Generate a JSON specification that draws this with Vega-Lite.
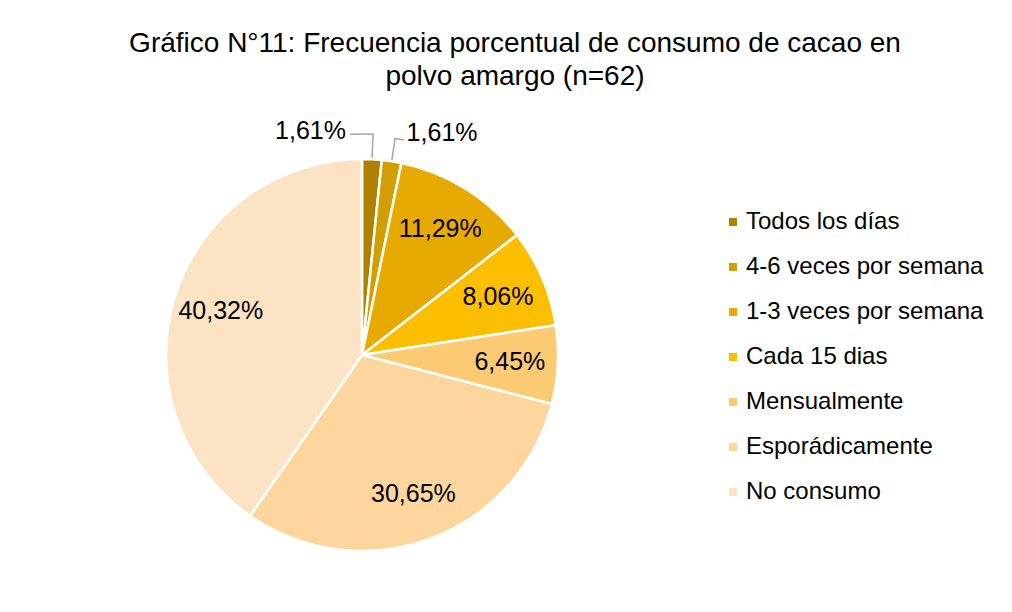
{
  "$schema": "https://vega.github.io/schema/vega-lite/v6.json",
  "width": 392,
  "height": 392,
  "autosize": {"type": "none"},
  "padding": {"left": 166, "top": 159, "right": 454, "bottom": 61},
  "background": "white",
  "config": {"view": {"stroke": null}, "font": "Liberation Sans"},
  "title": {
    "text": ["Gráfico N°11: Frecuencia porcentual de consumo de cacao en", "polvo amargo (n=62)"],
    "font": "Liberation Sans",
    "fontSize": 28,
    "fontWeight": "normal",
    "color": "#000000",
    "anchor": "middle",
    "frame": "group",
    "dx": 153,
    "lineHeight": 33,
    "offset": 28
  },
  "data": {
    "values": [
      {"o": 1, "cat": "Todos los días", "pct": 1.61, "label": "1,61%"},
      {"o": 2, "cat": "4-6 veces por semana", "pct": 1.61, "label": "1,61%"},
      {"o": 3, "cat": "1-3 veces por semana", "pct": 11.29, "label": "11,29%"},
      {"o": 4, "cat": "Cada 15 dias", "pct": 8.06, "label": "8,06%"},
      {"o": 5, "cat": "Mensualmente", "pct": 6.45, "label": "6,45%"},
      {"o": 6, "cat": "Esporádicamente", "pct": 30.65, "label": "30,65%"},
      {"o": 7, "cat": "No consumo", "pct": 40.32, "label": "40,32%"}
    ]
  },
  "transform": [{"stack": "pct", "groupby": [], "as": ["s0", "s1"]}],
  "layer": [
    {
      "mark": {"type": "arc", "outerRadius": 196, "stroke": "white", "strokeWidth": 2.5},
      "encoding": {
        "theta": {"field": "pct", "type": "quantitative", "stack": true, "scale": {"domain": [0, 99.99]}},
        "order": {"field": "o", "type": "quantitative"},
        "color": {
          "field": "cat",
          "type": "nominal",
          "scale": {
            "domain": ["Todos los días", "4-6 veces por semana", "1-3 veces por semana", "Cada 15 dias", "Mensualmente", "Esporádicamente", "No consumo"],
            "range": ["#B08000", "#D29E00", "#E6AA00", "#FBBF00", "#FBCA73", "#FCD69C", "#FCE3C3"]
          },
          "legend": {
            "orient": "none",
            "legendX": 555,
            "legendY": 51,
            "title": null,
            "symbolType": "square",
            "symbolSize": 64,
            "symbolStrokeWidth": 0,
            "labelFont": "Liberation Sans",
            "labelFontSize": 24,
            "labelColor": "#000000",
            "labelOffset": 1,
            "labelLimit": 400,
            "rowPadding": 21,
            "padding": 0
          }
        }
      }
    },
    {
      "mark": {"type": "text", "radius": 148, "fontSize": 25, "color": "#000000", "font": "Liberation Sans"},
      "encoding": {
        "theta": {"field": "pct", "type": "quantitative", "stack": true},
        "order": {"field": "o", "type": "quantitative"},
        "text": {"condition": {"test": "datum.pct < 2", "value": ""}, "field": "label", "type": "nominal"}
      }
    },
    {
      "transform": [{"filter": "datum.o == 1"}],
      "mark": {"type": "arc", "filled": false, "innerRadius": 198, "outerRadius": 221, "thetaOffset": 0.0506, "theta2Offset": -0.0506, "stroke": "#A6A6A6", "strokeWidth": 1.5},
      "encoding": {"theta": {"field": "s0", "type": "quantitative", "stack": null}, "theta2": {"field": "s1"}}
    },
    {
      "transform": [{"filter": "datum.o == 1"}],
      "mark": {"type": "arc", "filled": false, "innerRadius": 221, "outerRadius": 221, "thetaOffset": -0.054, "theta2Offset": -0.0506, "stroke": "#A6A6A6", "strokeWidth": 1.5},
      "encoding": {"theta": {"field": "s0", "type": "quantitative", "stack": null}, "theta2": {"field": "s1"}}
    },
    {
      "transform": [{"filter": "datum.o == 2"}],
      "mark": {"type": "arc", "filled": false, "innerRadius": 198, "outerRadius": 219, "thetaOffset": 0.0506, "theta2Offset": -0.0506, "stroke": "#A6A6A6", "strokeWidth": 1.5},
      "encoding": {"theta": {"field": "s0", "type": "quantitative", "stack": null}, "theta2": {"field": "s1"}}
    },
    {
      "transform": [{"filter": "datum.o == 2"}],
      "mark": {"type": "arc", "filled": false, "innerRadius": 219, "outerRadius": 219, "thetaOffset": 0.0506, "theta2Offset": -0.0093, "stroke": "#A6A6A6", "strokeWidth": 1.5},
      "encoding": {"theta": {"field": "s0", "type": "quantitative", "stack": null}, "theta2": {"field": "s1"}}
    },
    {
      "transform": [{"filter": "datum.o == 1"}],
      "mark": {"type": "text", "radius": 224, "align": "right", "baseline": "middle", "dx": -16, "fontSize": 25, "color": "#000000", "font": "Liberation Sans"},
      "encoding": {"theta": {"field": "s0", "type": "quantitative", "stack": null}, "text": {"field": "label", "type": "nominal"}}
    },
    {
      "transform": [{"filter": "datum.o == 2"}],
      "mark": {"type": "text", "radius": 224, "align": "left", "baseline": "middle", "dx": 22, "dy": 1, "fontSize": 25, "color": "#000000", "font": "Liberation Sans"},
      "encoding": {"theta": {"field": "s0", "type": "quantitative", "stack": null}, "text": {"field": "label", "type": "nominal"}}
    }
  ]
}
